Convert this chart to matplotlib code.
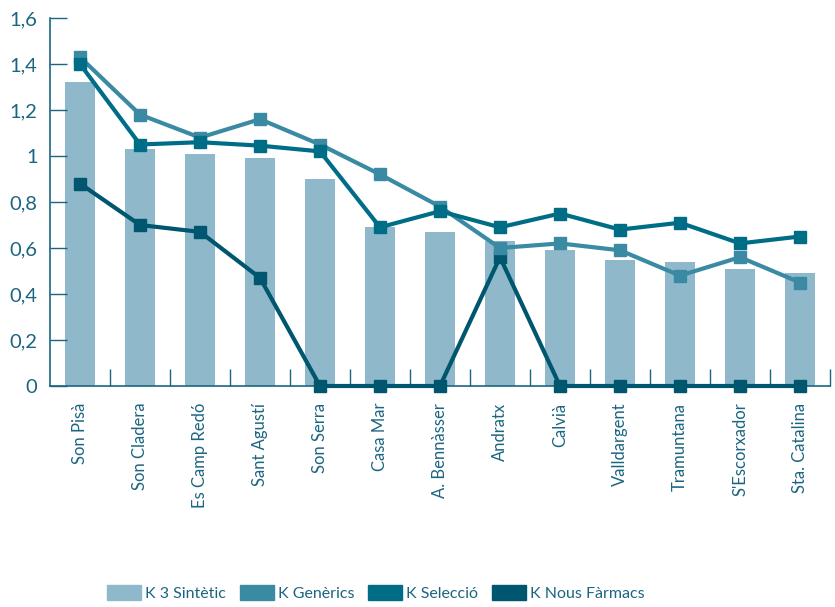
import numpy as np
import matplotlib
matplotlib.use("Agg")
import matplotlib.pyplot as plt
from matplotlib.patches import Patch

centres = ["Son Pisà", "Son Cladera", "Es Camp Redó", "Sant Agustí", "Son Serra",
           "Casa Mar", "A. Bennàsser", "Andratx", "Calvià", "Valldargent",
           "Tramuntana", "S'Escorxador", "Sta. Catalina"]
k3_sintetic = [1.32, 1.03, 1.01, 0.99, 0.90, 0.69, 0.67, 0.63, 0.59, 0.55, 0.54, 0.51, 0.49]
k_generics = [1.43, 1.18, 1.08, 1.16, 1.05, 0.92, 0.78, 0.60, 0.62, 0.59, 0.48, 0.56, 0.45]
k_seleccio = [1.40, 1.05, 1.06, 1.045, 1.02, 0.69, 0.76, 0.69, 0.75, 0.68, 0.71, 0.62, 0.65]
k_nous = [0.88, 0.70, 0.67, 0.47, 0, 0, 0, 0.56, 0, 0, 0, 0, 0]
yticks = [0, 0.2, 0.4, 0.6, 0.8, 1, 1.2, 1.4, 1.6]
ytick_labels = ["0", "0,2", "0,4", "0,6", "0,8", "1", "1,2", "1,4", "1,6"]

c_bar = "#8fb8ca"
c_gen = "#3a8aa3"
c_sel = "#006d87"
c_nous = "#00566f"
c_text = "#1c6580"

plt.rcParams['font.family'] = ['Lato', 'DejaVu Sans']

fig = plt.figure(figsize=(8.35, 6.07), dpi=100)
ax = fig.add_axes([50/835, 221/607, 780/835, 368/607])

x = np.arange(len(centres))
ax.bar(x, k3_sintetic, width=0.5, color=c_bar, zorder=1)
ax.plot(x, k_nous, color=c_nous, lw=3, marker='s', ms=9, zorder=3, clip_on=False)
ax.plot(x, k_generics, color=c_gen, lw=3, marker='s', ms=9, zorder=4, clip_on=False)
ax.plot(x, k_seleccio, color=c_sel, lw=3, marker='s', ms=9, zorder=5, clip_on=False)

ax.set_xlim(-0.5, len(centres) - 0.5)
ax.set_ylim(0, 1.6)

ax.set_yticks(yticks)
ax.set_yticklabels(ytick_labels, fontsize=14.5, color=c_text)
ax.tick_params(axis='y', direction='in', length=12, width=1, color=c_text, pad=9)

ax.set_xticks(x)
ax.set_xticklabels(centres, rotation=90, fontsize=12, color=c_text, va='top')
ax.tick_params(axis='x', which='major', length=0, pad=12)
ax.set_xticks(np.arange(0.5, len(centres) - 0.5 + 0.01, 1), minor=True)
ax.tick_params(axis='x', which='minor', direction='in', length=12, width=1, color=c_text)

for s in ['top', 'right']:
    ax.spines[s].set_visible(False)
for s in ['left', 'bottom']:
    ax.spines[s].set_color(c_text)
    ax.spines[s].set_linewidth(1.2)

handles = [Patch(color=c_bar, label="K 3 Sintètic"),
           Patch(color=c_gen, label="K Genèrics"),
           Patch(color=c_sel, label="K Selecció"),
           Patch(color=c_nous, label="K Nous Fàrmacs")]
leg = fig.legend(handles=handles, loc='center left', bbox_to_anchor=(96/835, 14/607),
                 ncol=4, frameon=False, fontsize=11.5, handlelength=2.1,
                 handleheight=1.1, handletextpad=0.25, columnspacing=0.9,
                 borderpad=0.2)
for t in leg.get_texts():
    t.set_color(c_text)

fig.savefig("out.png", dpi=100)
